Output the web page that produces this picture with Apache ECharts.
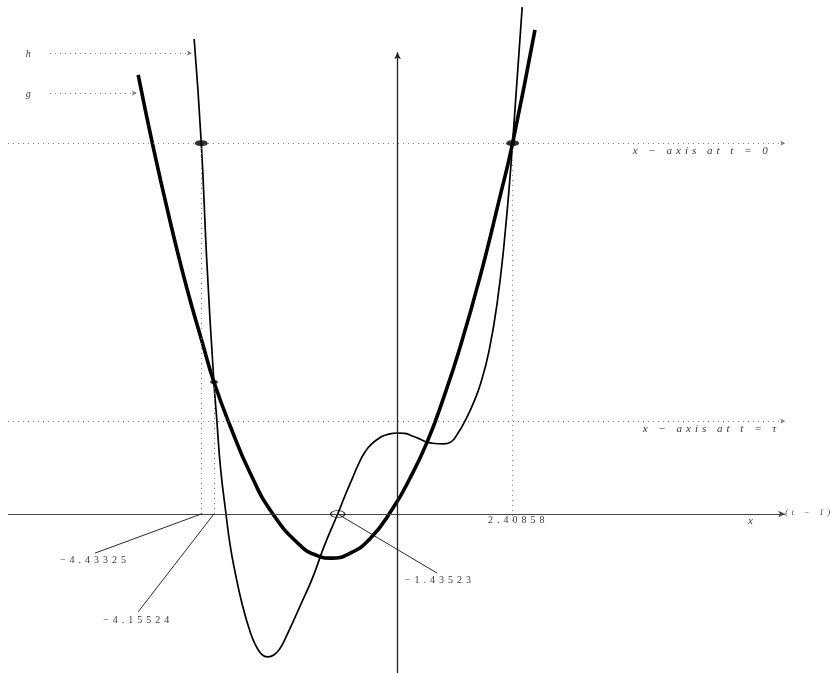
<!DOCTYPE html>
<html>
<head>
<meta charset="utf-8">
<script src="https://cdn.jsdelivr.net/npm/echarts@6/dist/echarts.min.js"></script>
<style>
  html, body { margin: 0; padding: 0; background: #fff; }
  #chart { width: 833px; height: 673px; filter: grayscale(100%); }
  #chart text { letter-spacing: 4px; }
</style>
</head>
<body>
<div id="chart"></div>
<script>
// Thick curve g: sampled points [x, y]
const gCurve = [
  [-5.82, 9.65], [-5.50, 8.11], [-5.12, 6.44], [-4.75, 4.96], [-4.40, 3.73],
  [-4.15524, 2.90], [-3.80, 1.94], [-3.36, 0.90], [-2.86, 0.00], [-2.26, -0.69],
  [-1.90, -0.91], [-1.58, -0.97], [-1.20, -0.88], [-0.73, -0.55], [-0.22, 0.13],
  [0.15, 0.78], [0.53, 1.58], [0.88, 2.52], [1.25, 3.65], [1.69, 5.20],
  [2.13, 6.97], [2.40858, 8.15], [2.90, 10.64]
];

// Thin curve h: sampled points [x, y]
const hCurve = [
  [-4.59, 10.44], [-4.43325, 8.15], [-4.31, 5.52], [-4.15524, 2.90], [-4.09, 2.04],
  [-4.01, 1.01], [-3.89, 0.00], [-3.80, -0.68], [-3.70, -1.23], [-3.54, -1.96],
  [-3.36, -2.59], [-3.23, -2.90], [-3.10, -3.09], [-2.97, -3.14], [-2.84, -3.10],
  [-2.70, -2.95], [-2.57, -2.70], [-2.44, -2.42], [-2.26, -2.02], [-1.99, -1.41],
  [-1.73, -0.70], [-1.43523, 0.00], [-1.26, 0.44], [-1.11, 0.79], [-0.99, 1.07],
  [-0.85, 1.34], [-0.70, 1.53], [-0.49, 1.69], [-0.33, 1.75], [-0.13, 1.78],
  [0.04, 1.77], [0.22, 1.71], [0.37, 1.65], [0.53, 1.58], [0.70, 1.55],
  [0.88, 1.54], [1.05, 1.58], [1.21, 1.78], [1.36, 2.04], [1.54, 2.42],
  [1.71, 2.88], [1.89, 3.58], [2.07, 4.64], [2.24, 6.13], [2.40858, 8.15],
  [2.62, 11.14]
];

// Heights of the shifted x-axes and of the left crossing of g and h
const levelT0 = 8.15;
const levelTau = 2.04;
const crossLevel = 2.90;

// Marked abscissae
const hRootsT0 = [-4.43325, 2.40858];   // h on the axis at t = 0
const ghCrossX = -4.15524;              // g and h cross
const hRootT1 = -1.43523;               // h on the axis at t − 1

// Texts
const curveNames = ['h', 'g'];
const axisTexts = ['x − axis at t = 0', 'x − axis at t = τ', 'x', '(t − 1)'];

const fmt = v => (v < 0 ? '−' : '') + Math.abs(v).toFixed(5);

const X_MIN = -8.857, X_MAX = 9.4505, Y_MIN = -3.4945, Y_MAX = 11.2967;
const X_LEFT = -8.68, X_RIGHT = 8.40, AXIS_V = -0.12, AXIS_TOP = 10.15;

const seg = (a, b) => [{ coord: a }, { coord: b }];

const dotted = { color: '#7a7a7a', width: 1, type: [1, 4] };

function lineGroup(lines, style, arrow, arrowSize) {
  return {
    type: 'line', data: [], z: 1, silent: true,
    markLine: {
      silent: true, animation: false,
      symbol: arrow ? ['none', 'arrow'] : ['none', 'none'],
      symbolSize: arrowSize || 6,
      label: { show: false },
      lineStyle: style,
      emphasis: { disabled: true },
      data: lines
    }
  };
}

function note(x, y, text, size, italic) {
  return {
    value: [x, y],
    label: {
      show: true, formatter: text, position: [0, 0], align: 'left', verticalAlign: 'middle',
      fontSize: size, fontStyle: italic ? 'italic' : 'normal',
      fontFamily: 'Liberation Serif', color: '#000'
    }
  };
}

const chart = echarts.init(document.getElementById('chart'), null, { renderer: 'svg' });

chart.setOption({
  animation: false,
  backgroundColor: '#fff',
  grid: { left: 0, right: 0, top: 0, bottom: 0 },
  xAxis: { type: 'value', min: X_MIN, max: X_MAX, show: false },
  yAxis: { type: 'value', min: Y_MIN, max: Y_MAX, show: false },
  series: [
    // main axis (t − 1) and vertical axis
    lineGroup([
      seg([X_LEFT, 0], [X_RIGHT, 0])
    ], { color: '#444', width: 1, type: 'solid' }, true, [5, 7]),
    lineGroup([
      seg([AXIS_V, Y_MIN], [AXIS_V, AXIS_TOP])
    ], { color: '#222', width: 1.3, type: 'solid' }, true, [5, 7]),
    // shifted axes and curve pointers
    lineGroup([
      seg([X_LEFT, levelT0], [X_RIGHT, levelT0]),
      seg([X_LEFT, levelTau], [X_RIGHT, levelTau]),
      seg([-7.76, 10.13], [-4.64, 10.13]),
      seg([-7.76, 9.25], [-5.85, 9.25])
    ], dotted, true, [4, 5]),
    // drop lines
    lineGroup([
      seg([hRootsT0[0], 0], [hRootsT0[0], levelT0]),
      seg([ghCrossX, 0], [ghCrossX, crossLevel]),
      seg([hRootsT0[1], -0.15], [hRootsT0[1], levelT0])
    ], dotted, false),
    // leader lines to the value labels
    lineGroup([
      seg([hRootsT0[0], 0], [-6.77, -0.86]),
      seg([ghCrossX, 0], [-5.82, -2.15]),
      seg([hRootT1, 0], [0.75, -1.30])
    ], { color: '#111', width: 0.9, type: 'solid' }, false),
    {
      name: curveNames[0], type: 'line', data: hCurve, z: 3,
      showSymbol: false, smooth: 0.5, silent: true,
      lineStyle: { color: '#000', width: 1.7 }
    },
    {
      name: curveNames[1], type: 'line', data: gCurve, z: 4,
      showSymbol: false, smooth: 0.5, silent: true,
      lineStyle: { color: '#000', width: 3.6 }
    },
    // filled marks on the axis at t = 0
    {
      type: 'scatter', z: 5, silent: true, symbol: 'circle', symbolSize: [13, 6],
      itemStyle: { color: '#000' },
      data: hRootsT0.map(x => [x, levelT0])
    },
    // crossing mark of g and h
    {
      type: 'scatter', z: 5, silent: true, symbol: 'circle', symbolSize: [8, 4],
      itemStyle: { color: '#000' },
      data: [[ghCrossX, crossLevel]]
    },
    // hollow mark on the axis at t − 1
    {
      type: 'scatter', z: 5, silent: true, symbol: 'circle', symbolSize: [14, 7],
      itemStyle: { color: 'rgba(255,255,255,0)', borderColor: '#000', borderWidth: 1 },
      data: [[hRootT1, 0]]
    },
    // texts
    {
      type: 'scatter', z: 6, silent: true, symbolSize: 0,
      data: [
        note(-8.29, 10.13, curveNames[0], 10, true),
        note(-8.29, 9.25, curveNames[1], 10, true),
        note(5.05, 7.99, axisTexts[0], 11, true),
        note(5.27, 1.89, axisTexts[1], 11, true),
        note(7.58, -0.13, axisTexts[2], 11, true),
        note(8.40, 0.04, axisTexts[3], 8, true),
        note(1.87, -0.13, fmt(hRootsT0[1]), 10, false),
        note(-7.54, -0.99, fmt(hRootsT0[0]), 10, false),
        note(-6.59, -2.31, fmt(ghCrossX), 10, false),
        note(0.04, -1.43, fmt(hRootT1), 10, false)
      ]
    }
  ]
});
</script>
</body>
</html>
